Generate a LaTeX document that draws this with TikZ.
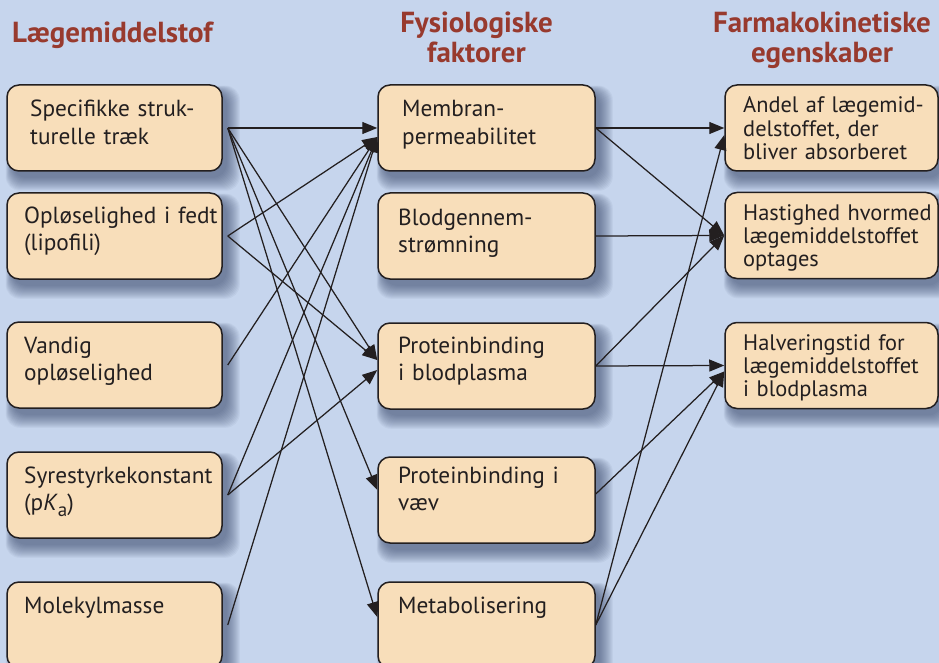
\documentclass[tikz,border=0pt]{standalone}
\usepackage{fontspec}
\setmainfont{PT Sans}
\usetikzlibrary{arrows.meta,calc}
\definecolor{bgc}{RGB}{198,213,237}
\definecolor{boxfill}{RGB}{248,222,186}
\definecolor{edgec}{RGB}{35,31,32}
\definecolor{titlec}{RGB}{152,58,46}
\definecolor{shadowc}{RGB}{55,70,105}
\pgfdeclarelayer{bglayer}
\pgfsetlayers{bglayer,main}
\begin{document}
\begin{tikzpicture}[x=1pt,y=-1pt,
  box/.style={draw=edgec, line width=1.5pt, fill=boxfill, rounded corners=12pt, minimum height=86pt, inner sep=0pt},
  lbox/.style={box, minimum width=215pt},
  mbox/.style={box, minimum width=217pt},
  rbox/.style={box, minimum width=213pt},
  txt/.style={inner sep=0pt, anchor=base west, text width=240pt, align=left, font=\fontsize{23.3}{27.5}\selectfont, text=edgec},
  rtxt/.style={txt, font=\fontsize{22.4}{23.4}\selectfont},
  ttl/.style={inner sep=0pt, anchor=base, text width=320pt, align=center, font=\bfseries\fontsize{29}{30}\selectfont, text=titlec},
  arr/.style={draw=edgec, line width=1.25pt, -{Triangle[length=15pt,width=12pt]}}
]
\useasboundingbox (0,0) rectangle (939,663);
\clip (0,0) rectangle (939,663);

% boxes
\node[lbox] (L1) at (114.5,128) {};
\node[lbox] (L2) at (114.5,236) {};
\node[lbox] (L3) at (114.5,365) {};
\node[lbox] (L4) at (114.5,495) {};
\node[lbox] (L5) at (114.5,625) {};
\node[mbox] (M1) at (486.5,128) {};
\node[mbox] (M2) at (486.5,236) {};
\node[mbox] (M3) at (486.5,366) {};
\node[mbox] (M4) at (486.5,500) {};
\node[mbox] (M5) at (486.5,625) {};
\node[rbox] (R1) at (831.5,128) {};
\node[rbox] (R2) at (831.5,235.5) {};
\node[rbox] (R3) at (831.5,365.5) {};

% background and shadows
\begin{pgfonlayer}{bglayer}
  \clip (0,0) rectangle (939,663);
  \fill[bgc] (0,0) rectangle (939,663);
  \foreach \n in {L1,L2,L3,L4,L5,M1,M2,M3,M4,M5,R1,R2,R3}{
    \foreach \k in {0,...,13}{
      \fill[shadowc, opacity=0.055, rounded corners=14pt]
        ($(\n.north west)+(6-0.5*\k,8-0.5*\k)$) rectangle ($(\n.south east)+(4+\k,6+\k)$);
    }
  }
\end{pgfonlayer}

% titles
\node[ttl, anchor=base west, text width=260pt, align=left] (T1) at (12,43) {Lægemiddelstof};
\node[ttl] (T2) at (476.5,33) {Fysiologiske\\faktorer};
\node[ttl] (T3) at (822,33) {Farmakokinetiske\\egenskaber};

% texts
\node[txt] (L1t) at (30,117) {Specifikke struk-\\turelle træk};
\node[txt] (L2t) at (24,223) {Opløselighed i fedt\\(lipofili)};
\node[txt] (L3t) at (24,353) {Vandig\\opløselighed};
\node[txt] (L4t) at (24,483) {Syrestyrkekonstant\\(p\textit{K}\raisebox{-0.25em}{\fontsize{19}{19}\selectfont a})};
\node[txt] (L5t) at (24,613) {Molekylmasse};
\node[txt] (M1t) at (402,117) {Membran-\\permeabilitet};
\node[txt] (M2t) at (398,225) {Blodgennem-\\strømning};
\node[txt] (M3t) at (398,353) {Proteinbinding\\i blodplasma};
\node[txt] (M4t) at (398,483) {Proteinbinding i\\væv};
\node[txt] (M5t) at (398,613) {Metabolisering};
\node[rtxt] (R1t) at (743,113) {Andel af lægemid-\\delstoffet, der\\bliver absorberet};
\node[rtxt] (R2t) at (743,220) {Hastighed hvormed\\lægemiddelstoffet\\optages};
\node[rtxt] (R3t) at (743,350) {Halveringstid for\\lægemiddelstoffet\\i blodplasma};

% connectors left -> middle
\draw[arr] ([xshift=5pt]L1.east) -- (M1.west);
\draw[arr] ([xshift=5pt]L1.east) -- ([yshift=6pt]M3.west);
\draw[arr] ([xshift=5pt]L1.east) -- ([yshift=10pt]M4.west);
\draw[arr] ([xshift=5pt]L1.east) -- ([yshift=8pt]M5.west);
\draw[arr] ([xshift=5pt]L2.east) -- ([yshift=-9pt]M1.west);
\draw[arr] ([xshift=5pt]L2.east) -- ([yshift=6pt]M3.west);
\draw[arr] ([xshift=5pt]L3.east) -- ([yshift=-9pt]M1.west);
\draw[arr] ([xshift=5pt]L4.east) -- ([yshift=-9pt]M1.west);
\draw[arr] ([xshift=5pt]L4.east) -- ([yshift=-4pt]M3.west);
\draw[arr] ([xshift=5pt]L5.east) -- ([yshift=-9pt]M1.west);

% connectors middle -> right
\draw[arr] (M1.east) -- (R1.west);
\draw[arr] (M1.east) -- (R2.west);
\draw[arr] (M2.east) -- (R2.west);
\draw[arr] (M3.east) -- (R2.west);
\draw[arr] (M3.east) -- (R3.west);
\draw[arr] ([yshift=6pt]M4.east) -- ([yshift=-6pt]R3.west);
\draw[arr] (M5.east) -- ([yshift=-7pt]R1.west);
\draw[arr] (M5.east) -- ([yshift=-6pt]R3.west);
\end{tikzpicture}
\end{document}
